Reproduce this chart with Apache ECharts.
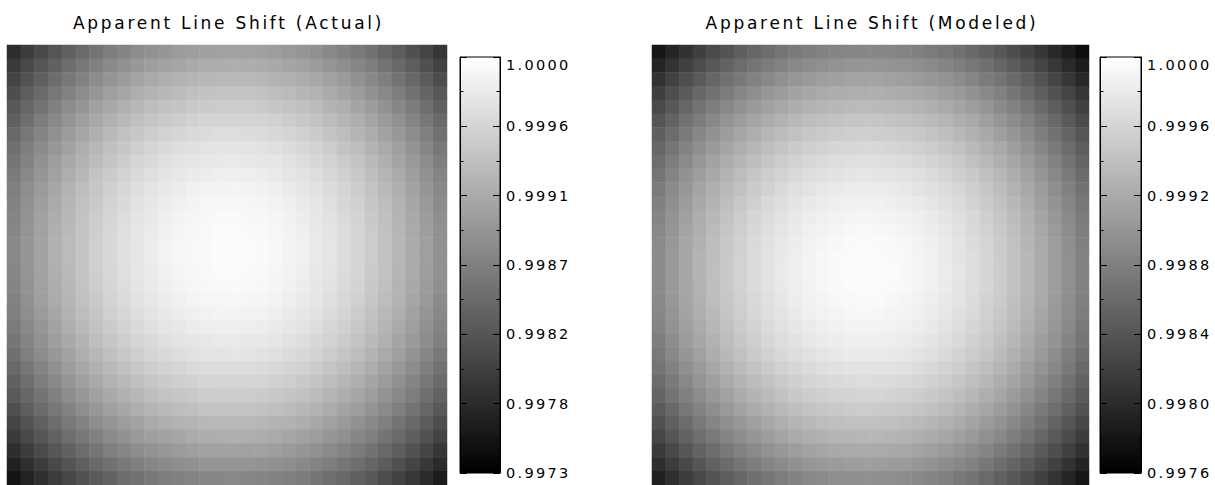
<!DOCTYPE html>
<html>
<head>
<meta charset="utf-8">
<script src="https://cdn.jsdelivr.net/npm/echarts@6/dist/echarts.min.js"></script>
<style>
  html, body { margin: 0; padding: 0; background: #ffffff; }
  #chart { width: 1215px; height: 485px; }
  /* wide, airy lettering for the titles and colour-bar labels */
  #chart svg text { letter-spacing: 0.16em; }
</style>
</head>
<body>
<div id="chart"></div>
<script>
// Apparent line shift maps, 32 x 32 cells, row 0 at the top.
const actualShift = [
[0.99778,0.99793,0.99807,0.99820,0.99832,0.99843,0.99853,0.99863,0.99871,0.99878,0.99884,0.99889,0.99894,0.99897,0.99899,0.99901,0.99901,0.99900,0.99899,0.99896,0.99892,0.99888,0.99882,0.99875,0.99868,0.99859,0.99850,0.99839,0.99828,0.99815,0.99802,0.99787],
[0.99790,0.99806,0.99820,0.99833,0.99845,0.99856,0.99866,0.99875,0.99884,0.99891,0.99897,0.99902,0.99906,0.99910,0.99912,0.99913,0.99914,0.99913,0.99911,0.99909,0.99905,0.99900,0.99895,0.99888,0.99881,0.99872,0.99863,0.99852,0.99841,0.99828,0.99815,0.99800],
[0.99802,0.99817,0.99831,0.99845,0.99857,0.99868,0.99878,0.99887,0.99895,0.99903,0.99909,0.99914,0.99918,0.99922,0.99924,0.99925,0.99925,0.99925,0.99923,0.99920,0.99917,0.99912,0.99907,0.99900,0.99893,0.99884,0.99874,0.99864,0.99852,0.99840,0.99826,0.99812],
[0.99813,0.99828,0.99842,0.99856,0.99868,0.99879,0.99889,0.99898,0.99906,0.99914,0.99920,0.99925,0.99929,0.99933,0.99935,0.99936,0.99936,0.99936,0.99934,0.99931,0.99928,0.99923,0.99918,0.99911,0.99904,0.99895,0.99885,0.99875,0.99863,0.99851,0.99837,0.99823],
[0.99823,0.99838,0.99852,0.99866,0.99878,0.99889,0.99899,0.99908,0.99916,0.99924,0.99930,0.99935,0.99939,0.99943,0.99945,0.99946,0.99946,0.99946,0.99944,0.99941,0.99938,0.99933,0.99928,0.99921,0.99914,0.99905,0.99895,0.99885,0.99873,0.99861,0.99847,0.99833],
[0.99832,0.99848,0.99862,0.99875,0.99887,0.99898,0.99908,0.99917,0.99926,0.99933,0.99939,0.99944,0.99948,0.99952,0.99954,0.99955,0.99956,0.99955,0.99953,0.99951,0.99947,0.99942,0.99937,0.99930,0.99923,0.99914,0.99905,0.99894,0.99883,0.99870,0.99857,0.99842],
[0.99841,0.99856,0.99870,0.99883,0.99895,0.99906,0.99916,0.99926,0.99934,0.99941,0.99947,0.99952,0.99957,0.99960,0.99962,0.99964,0.99964,0.99963,0.99962,0.99959,0.99955,0.99951,0.99945,0.99938,0.99931,0.99922,0.99913,0.99902,0.99891,0.99878,0.99865,0.99850],
[0.99848,0.99863,0.99877,0.99890,0.99902,0.99914,0.99924,0.99933,0.99941,0.99948,0.99954,0.99960,0.99964,0.99967,0.99970,0.99971,0.99971,0.99970,0.99969,0.99966,0.99963,0.99958,0.99952,0.99946,0.99938,0.99930,0.99920,0.99910,0.99898,0.99886,0.99872,0.99858],
[0.99854,0.99869,0.99884,0.99897,0.99909,0.99920,0.99930,0.99939,0.99947,0.99955,0.99961,0.99966,0.99970,0.99974,0.99976,0.99977,0.99978,0.99977,0.99975,0.99973,0.99969,0.99964,0.99959,0.99952,0.99945,0.99936,0.99927,0.99916,0.99905,0.99892,0.99879,0.99864],
[0.99860,0.99875,0.99889,0.99902,0.99914,0.99925,0.99936,0.99945,0.99953,0.99960,0.99966,0.99972,0.99976,0.99979,0.99981,0.99983,0.99983,0.99982,0.99981,0.99978,0.99974,0.99970,0.99964,0.99958,0.99950,0.99942,0.99932,0.99922,0.99910,0.99898,0.99884,0.99870],
[0.99864,0.99880,0.99894,0.99907,0.99919,0.99930,0.99940,0.99949,0.99958,0.99965,0.99971,0.99976,0.99980,0.99984,0.99986,0.99987,0.99988,0.99987,0.99985,0.99983,0.99979,0.99974,0.99969,0.99962,0.99955,0.99946,0.99937,0.99926,0.99915,0.99902,0.99889,0.99874],
[0.99868,0.99883,0.99897,0.99910,0.99923,0.99934,0.99944,0.99953,0.99961,0.99968,0.99975,0.99980,0.99984,0.99987,0.99990,0.99991,0.99991,0.99991,0.99989,0.99986,0.99983,0.99978,0.99973,0.99966,0.99958,0.99950,0.99940,0.99930,0.99918,0.99906,0.99892,0.99878],
[0.99871,0.99886,0.99900,0.99913,0.99925,0.99937,0.99947,0.99956,0.99964,0.99971,0.99977,0.99983,0.99987,0.99990,0.99993,0.99994,0.99994,0.99993,0.99992,0.99989,0.99986,0.99981,0.99975,0.99969,0.99961,0.99953,0.99943,0.99933,0.99921,0.99909,0.99895,0.99881],
[0.99873,0.99888,0.99902,0.99915,0.99927,0.99938,0.99948,0.99958,0.99966,0.99973,0.99979,0.99985,0.99989,0.99992,0.99994,0.99996,0.99996,0.99995,0.99994,0.99991,0.99987,0.99983,0.99977,0.99971,0.99963,0.99954,0.99945,0.99934,0.99923,0.99910,0.99897,0.99883],
[0.99874,0.99889,0.99903,0.99916,0.99928,0.99939,0.99949,0.99959,0.99967,0.99974,0.99980,0.99986,0.99990,0.99993,0.99995,0.99997,0.99997,0.99996,0.99995,0.99992,0.99988,0.99984,0.99978,0.99972,0.99964,0.99955,0.99946,0.99935,0.99924,0.99911,0.99898,0.99884],
[0.99874,0.99889,0.99903,0.99916,0.99928,0.99939,0.99949,0.99959,0.99967,0.99974,0.99980,0.99986,0.99990,0.99993,0.99995,0.99997,0.99997,0.99996,0.99995,0.99992,0.99988,0.99984,0.99978,0.99972,0.99964,0.99955,0.99946,0.99935,0.99924,0.99911,0.99898,0.99884],
[0.99873,0.99888,0.99902,0.99915,0.99927,0.99938,0.99949,0.99958,0.99966,0.99973,0.99979,0.99985,0.99989,0.99992,0.99994,0.99996,0.99996,0.99995,0.99994,0.99991,0.99987,0.99983,0.99977,0.99971,0.99963,0.99955,0.99945,0.99935,0.99923,0.99911,0.99897,0.99883],
[0.99871,0.99886,0.99900,0.99913,0.99925,0.99937,0.99947,0.99956,0.99964,0.99971,0.99978,0.99983,0.99987,0.99990,0.99993,0.99994,0.99994,0.99994,0.99992,0.99989,0.99986,0.99981,0.99975,0.99969,0.99961,0.99953,0.99943,0.99933,0.99921,0.99909,0.99895,0.99881],
[0.99868,0.99884,0.99898,0.99911,0.99923,0.99934,0.99944,0.99953,0.99962,0.99969,0.99975,0.99980,0.99984,0.99988,0.99990,0.99991,0.99992,0.99991,0.99989,0.99987,0.99983,0.99978,0.99973,0.99966,0.99959,0.99950,0.99941,0.99930,0.99919,0.99906,0.99893,0.99878],
[0.99865,0.99880,0.99894,0.99907,0.99919,0.99930,0.99940,0.99950,0.99958,0.99965,0.99971,0.99977,0.99981,0.99984,0.99986,0.99988,0.99988,0.99987,0.99986,0.99983,0.99979,0.99975,0.99969,0.99963,0.99955,0.99946,0.99937,0.99926,0.99915,0.99902,0.99889,0.99875],
[0.99860,0.99875,0.99889,0.99903,0.99915,0.99926,0.99936,0.99945,0.99953,0.99961,0.99967,0.99972,0.99976,0.99980,0.99982,0.99983,0.99983,0.99983,0.99981,0.99978,0.99975,0.99970,0.99965,0.99958,0.99951,0.99942,0.99932,0.99922,0.99910,0.99898,0.99884,0.99870],
[0.99855,0.99870,0.99884,0.99897,0.99909,0.99920,0.99931,0.99940,0.99948,0.99955,0.99961,0.99967,0.99971,0.99974,0.99976,0.99978,0.99978,0.99977,0.99976,0.99973,0.99969,0.99965,0.99959,0.99953,0.99945,0.99937,0.99927,0.99917,0.99905,0.99893,0.99879,0.99865],
[0.99849,0.99864,0.99878,0.99891,0.99903,0.99914,0.99924,0.99933,0.99942,0.99949,0.99955,0.99960,0.99965,0.99968,0.99970,0.99971,0.99972,0.99971,0.99969,0.99967,0.99963,0.99959,0.99953,0.99946,0.99939,0.99930,0.99921,0.99910,0.99899,0.99886,0.99873,0.99858],
[0.99841,0.99856,0.99870,0.99884,0.99896,0.99907,0.99917,0.99926,0.99934,0.99942,0.99948,0.99953,0.99957,0.99961,0.99963,0.99964,0.99964,0.99964,0.99962,0.99959,0.99956,0.99951,0.99946,0.99939,0.99932,0.99923,0.99913,0.99903,0.99891,0.99879,0.99865,0.99851],
[0.99833,0.99848,0.99862,0.99875,0.99888,0.99899,0.99909,0.99918,0.99926,0.99933,0.99940,0.99945,0.99949,0.99952,0.99955,0.99956,0.99956,0.99956,0.99954,0.99951,0.99948,0.99943,0.99938,0.99931,0.99923,0.99915,0.99905,0.99895,0.99883,0.99871,0.99857,0.99843],
[0.99824,0.99839,0.99853,0.99866,0.99878,0.99890,0.99900,0.99909,0.99917,0.99924,0.99931,0.99936,0.99940,0.99943,0.99946,0.99947,0.99947,0.99947,0.99945,0.99942,0.99939,0.99934,0.99928,0.99922,0.99914,0.99906,0.99896,0.99886,0.99874,0.99862,0.99848,0.99834],
[0.99814,0.99829,0.99843,0.99856,0.99868,0.99880,0.99890,0.99899,0.99907,0.99914,0.99921,0.99926,0.99930,0.99933,0.99936,0.99937,0.99937,0.99937,0.99935,0.99932,0.99929,0.99924,0.99918,0.99912,0.99904,0.99896,0.99886,0.99876,0.99864,0.99852,0.99838,0.99824],
[0.99803,0.99818,0.99832,0.99845,0.99858,0.99869,0.99879,0.99888,0.99896,0.99903,0.99910,0.99915,0.99919,0.99922,0.99925,0.99926,0.99926,0.99926,0.99924,0.99921,0.99918,0.99913,0.99908,0.99901,0.99893,0.99885,0.99875,0.99865,0.99853,0.99841,0.99827,0.99813],
[0.99791,0.99807,0.99821,0.99834,0.99846,0.99857,0.99867,0.99876,0.99885,0.99892,0.99898,0.99903,0.99907,0.99911,0.99913,0.99914,0.99915,0.99914,0.99912,0.99910,0.99906,0.99901,0.99896,0.99889,0.99882,0.99873,0.99864,0.99853,0.99842,0.99829,0.99816,0.99801],
[0.99779,0.99794,0.99808,0.99821,0.99833,0.99844,0.99854,0.99864,0.99872,0.99879,0.99885,0.99890,0.99895,0.99898,0.99900,0.99902,0.99902,0.99901,0.99900,0.99897,0.99893,0.99889,0.99883,0.99876,0.99869,0.99860,0.99851,0.99840,0.99829,0.99816,0.99803,0.99788],
[0.99765,0.99780,0.99794,0.99807,0.99819,0.99831,0.99841,0.99850,0.99858,0.99865,0.99872,0.99877,0.99881,0.99884,0.99887,0.99888,0.99888,0.99888,0.99886,0.99883,0.99880,0.99875,0.99869,0.99863,0.99855,0.99847,0.99837,0.99827,0.99815,0.99803,0.99789,0.99775],
[0.99751,0.99766,0.99780,0.99793,0.99805,0.99816,0.99826,0.99835,0.99844,0.99851,0.99857,0.99862,0.99867,0.99870,0.99872,0.99873,0.99874,0.99873,0.99871,0.99869,0.99865,0.99861,0.99855,0.99848,0.99841,0.99832,0.99823,0.99812,0.99801,0.99788,0.99775,0.99760]
];

const modeledShift = [
[0.99781,0.99795,0.99807,0.99819,0.99830,0.99839,0.99848,0.99856,0.99863,0.99870,0.99875,0.99879,0.99882,0.99885,0.99886,0.99887,0.99887,0.99886,0.99883,0.99880,0.99876,0.99872,0.99866,0.99859,0.99851,0.99843,0.99833,0.99823,0.99812,0.99799,0.99786,0.99772],
[0.99795,0.99808,0.99821,0.99832,0.99843,0.99853,0.99862,0.99870,0.99877,0.99883,0.99888,0.99893,0.99896,0.99898,0.99900,0.99901,0.99900,0.99899,0.99897,0.99894,0.99890,0.99885,0.99879,0.99872,0.99865,0.99856,0.99847,0.99836,0.99825,0.99813,0.99800,0.99786],
[0.99807,0.99821,0.99833,0.99845,0.99856,0.99866,0.99874,0.99882,0.99889,0.99896,0.99901,0.99905,0.99909,0.99911,0.99913,0.99913,0.99913,0.99912,0.99909,0.99906,0.99902,0.99898,0.99892,0.99885,0.99877,0.99869,0.99859,0.99849,0.99838,0.99825,0.99812,0.99798],
[0.99819,0.99833,0.99845,0.99857,0.99867,0.99877,0.99886,0.99894,0.99901,0.99907,0.99913,0.99917,0.99920,0.99923,0.99924,0.99925,0.99925,0.99923,0.99921,0.99918,0.99914,0.99909,0.99904,0.99897,0.99889,0.99881,0.99871,0.99861,0.99849,0.99837,0.99824,0.99810],
[0.99830,0.99843,0.99856,0.99868,0.99878,0.99888,0.99897,0.99905,0.99912,0.99918,0.99923,0.99928,0.99931,0.99933,0.99935,0.99936,0.99935,0.99934,0.99932,0.99929,0.99925,0.99920,0.99914,0.99908,0.99900,0.99891,0.99882,0.99872,0.99860,0.99848,0.99835,0.99821],
[0.99840,0.99853,0.99866,0.99878,0.99888,0.99898,0.99907,0.99915,0.99922,0.99928,0.99933,0.99938,0.99941,0.99943,0.99945,0.99946,0.99945,0.99944,0.99942,0.99939,0.99935,0.99930,0.99924,0.99918,0.99910,0.99901,0.99892,0.99882,0.99870,0.99858,0.99845,0.99831],
[0.99849,0.99862,0.99875,0.99887,0.99897,0.99907,0.99916,0.99924,0.99931,0.99937,0.99942,0.99947,0.99950,0.99952,0.99954,0.99955,0.99954,0.99953,0.99951,0.99948,0.99944,0.99939,0.99933,0.99927,0.99919,0.99910,0.99901,0.99891,0.99879,0.99867,0.99854,0.99840],
[0.99857,0.99871,0.99883,0.99895,0.99905,0.99915,0.99924,0.99932,0.99939,0.99945,0.99951,0.99955,0.99958,0.99961,0.99962,0.99963,0.99963,0.99961,0.99959,0.99956,0.99952,0.99947,0.99942,0.99935,0.99927,0.99919,0.99909,0.99899,0.99887,0.99875,0.99862,0.99848],
[0.99864,0.99878,0.99890,0.99902,0.99913,0.99923,0.99931,0.99939,0.99946,0.99953,0.99958,0.99962,0.99966,0.99968,0.99970,0.99970,0.99970,0.99969,0.99966,0.99963,0.99959,0.99955,0.99949,0.99942,0.99934,0.99926,0.99916,0.99906,0.99895,0.99882,0.99869,0.99855],
[0.99871,0.99884,0.99897,0.99909,0.99919,0.99929,0.99938,0.99946,0.99953,0.99959,0.99964,0.99969,0.99972,0.99974,0.99976,0.99977,0.99976,0.99975,0.99973,0.99970,0.99966,0.99961,0.99955,0.99949,0.99941,0.99932,0.99923,0.99913,0.99901,0.99889,0.99876,0.99862],
[0.99876,0.99890,0.99902,0.99914,0.99925,0.99935,0.99943,0.99951,0.99958,0.99965,0.99970,0.99974,0.99978,0.99980,0.99982,0.99982,0.99982,0.99981,0.99978,0.99975,0.99971,0.99967,0.99961,0.99954,0.99946,0.99938,0.99928,0.99918,0.99907,0.99894,0.99881,0.99867],
[0.99881,0.99895,0.99907,0.99919,0.99929,0.99939,0.99948,0.99956,0.99963,0.99969,0.99975,0.99979,0.99982,0.99985,0.99986,0.99987,0.99987,0.99985,0.99983,0.99980,0.99976,0.99971,0.99966,0.99959,0.99951,0.99943,0.99933,0.99923,0.99911,0.99899,0.99886,0.99872],
[0.99885,0.99898,0.99911,0.99923,0.99933,0.99943,0.99952,0.99960,0.99967,0.99973,0.99978,0.99983,0.99986,0.99988,0.99990,0.99991,0.99990,0.99989,0.99987,0.99984,0.99980,0.99975,0.99969,0.99963,0.99955,0.99946,0.99937,0.99927,0.99915,0.99903,0.99890,0.99876],
[0.99888,0.99901,0.99914,0.99925,0.99936,0.99946,0.99955,0.99963,0.99970,0.99976,0.99981,0.99986,0.99989,0.99991,0.99993,0.99994,0.99993,0.99992,0.99990,0.99987,0.99983,0.99978,0.99972,0.99965,0.99958,0.99949,0.99940,0.99929,0.99918,0.99906,0.99893,0.99879],
[0.99890,0.99903,0.99916,0.99927,0.99938,0.99948,0.99957,0.99965,0.99972,0.99978,0.99983,0.99988,0.99991,0.99993,0.99995,0.99996,0.99995,0.99994,0.99992,0.99989,0.99985,0.99980,0.99974,0.99967,0.99960,0.99951,0.99942,0.99931,0.99920,0.99908,0.99895,0.99881],
[0.99891,0.99904,0.99917,0.99929,0.99939,0.99949,0.99958,0.99966,0.99973,0.99979,0.99984,0.99989,0.99992,0.99995,0.99996,0.99997,0.99996,0.99995,0.99993,0.99990,0.99986,0.99981,0.99975,0.99969,0.99961,0.99952,0.99943,0.99933,0.99921,0.99909,0.99896,0.99882],
[0.99891,0.99905,0.99917,0.99929,0.99940,0.99949,0.99958,0.99966,0.99973,0.99980,0.99985,0.99989,0.99992,0.99995,0.99996,0.99997,0.99997,0.99996,0.99993,0.99990,0.99986,0.99982,0.99976,0.99969,0.99961,0.99953,0.99943,0.99933,0.99922,0.99909,0.99896,0.99882],
[0.99891,0.99904,0.99917,0.99928,0.99939,0.99949,0.99958,0.99966,0.99973,0.99979,0.99984,0.99988,0.99992,0.99994,0.99996,0.99996,0.99996,0.99995,0.99993,0.99990,0.99986,0.99981,0.99975,0.99968,0.99961,0.99952,0.99943,0.99932,0.99921,0.99909,0.99896,0.99882],
[0.99889,0.99903,0.99915,0.99927,0.99938,0.99947,0.99956,0.99964,0.99971,0.99977,0.99983,0.99987,0.99990,0.99993,0.99994,0.99995,0.99995,0.99993,0.99991,0.99988,0.99984,0.99979,0.99974,0.99967,0.99959,0.99951,0.99941,0.99931,0.99920,0.99907,0.99894,0.99880],
[0.99887,0.99900,0.99913,0.99925,0.99935,0.99945,0.99954,0.99962,0.99969,0.99975,0.99980,0.99985,0.99988,0.99990,0.99992,0.99993,0.99992,0.99991,0.99989,0.99986,0.99982,0.99977,0.99971,0.99965,0.99957,0.99948,0.99939,0.99929,0.99917,0.99905,0.99892,0.99878],
[0.99884,0.99897,0.99910,0.99921,0.99932,0.99942,0.99951,0.99959,0.99966,0.99972,0.99977,0.99981,0.99985,0.99987,0.99989,0.99989,0.99989,0.99988,0.99986,0.99983,0.99979,0.99974,0.99968,0.99961,0.99954,0.99945,0.99936,0.99925,0.99914,0.99902,0.99889,0.99874],
[0.99879,0.99893,0.99906,0.99917,0.99928,0.99938,0.99947,0.99955,0.99962,0.99968,0.99973,0.99977,0.99981,0.99983,0.99985,0.99985,0.99985,0.99984,0.99982,0.99979,0.99975,0.99970,0.99964,0.99957,0.99950,0.99941,0.99932,0.99921,0.99910,0.99898,0.99884,0.99870],
[0.99874,0.99888,0.99901,0.99912,0.99923,0.99933,0.99942,0.99950,0.99957,0.99963,0.99968,0.99972,0.99976,0.99978,0.99980,0.99980,0.99980,0.99979,0.99977,0.99974,0.99970,0.99965,0.99959,0.99952,0.99945,0.99936,0.99927,0.99916,0.99905,0.99893,0.99879,0.99865],
[0.99869,0.99882,0.99895,0.99906,0.99917,0.99927,0.99936,0.99944,0.99951,0.99957,0.99962,0.99966,0.99970,0.99972,0.99974,0.99974,0.99974,0.99973,0.99971,0.99968,0.99964,0.99959,0.99953,0.99946,0.99939,0.99930,0.99921,0.99910,0.99899,0.99887,0.99874,0.99859],
[0.99862,0.99875,0.99888,0.99900,0.99910,0.99920,0.99929,0.99937,0.99944,0.99950,0.99955,0.99960,0.99963,0.99965,0.99967,0.99968,0.99967,0.99966,0.99964,0.99961,0.99957,0.99952,0.99946,0.99940,0.99932,0.99923,0.99914,0.99904,0.99892,0.99880,0.99867,0.99853],
[0.99854,0.99868,0.99880,0.99892,0.99903,0.99912,0.99921,0.99929,0.99936,0.99943,0.99948,0.99952,0.99955,0.99958,0.99959,0.99960,0.99960,0.99959,0.99956,0.99953,0.99949,0.99945,0.99939,0.99932,0.99924,0.99916,0.99906,0.99896,0.99885,0.99872,0.99859,0.99845],
[0.99846,0.99859,0.99872,0.99883,0.99894,0.99904,0.99913,0.99921,0.99928,0.99934,0.99939,0.99944,0.99947,0.99949,0.99951,0.99952,0.99951,0.99950,0.99948,0.99945,0.99941,0.99936,0.99930,0.99923,0.99916,0.99907,0.99898,0.99887,0.99876,0.99864,0.99851,0.99837],
[0.99836,0.99850,0.99862,0.99874,0.99885,0.99895,0.99903,0.99911,0.99918,0.99925,0.99930,0.99934,0.99938,0.99940,0.99942,0.99942,0.99942,0.99941,0.99938,0.99935,0.99931,0.99927,0.99921,0.99914,0.99906,0.99898,0.99888,0.99878,0.99867,0.99854,0.99841,0.99827],
[0.99826,0.99840,0.99852,0.99864,0.99874,0.99884,0.99893,0.99901,0.99908,0.99914,0.99920,0.99924,0.99927,0.99930,0.99931,0.99932,0.99932,0.99930,0.99928,0.99925,0.99921,0.99916,0.99911,0.99904,0.99896,0.99888,0.99878,0.99868,0.99856,0.99844,0.99831,0.99817],
[0.99815,0.99828,0.99841,0.99853,0.99863,0.99873,0.99882,0.99890,0.99897,0.99903,0.99908,0.99913,0.99916,0.99919,0.99920,0.99921,0.99920,0.99919,0.99917,0.99914,0.99910,0.99905,0.99899,0.99893,0.99885,0.99876,0.99867,0.99857,0.99845,0.99833,0.99820,0.99806],
[0.99803,0.99816,0.99829,0.99841,0.99851,0.99861,0.99870,0.99878,0.99885,0.99891,0.99896,0.99901,0.99904,0.99906,0.99908,0.99909,0.99908,0.99907,0.99905,0.99902,0.99898,0.99893,0.99887,0.99881,0.99873,0.99864,0.99855,0.99845,0.99833,0.99821,0.99808,0.99794],
[0.99790,0.99803,0.99816,0.99828,0.99838,0.99848,0.99857,0.99865,0.99872,0.99878,0.99883,0.99888,0.99891,0.99894,0.99895,0.99896,0.99895,0.99894,0.99892,0.99889,0.99885,0.99880,0.99874,0.99868,0.99860,0.99851,0.99842,0.99832,0.99820,0.99808,0.99795,0.99781]
];

// Colour-bar tick labels, top to bottom
const actualTicks  = ['1.0000', '0.9996', '0.9991', '0.9987', '0.9982', '0.9978', '0.9973'];
const modeledTicks = ['1.0000', '0.9996', '0.9992', '0.9988', '0.9984', '0.9980', '0.9976'];

// Colour scale limits [min, max]
const actualRange  = [0.9973, 1.0];
const modeledRange = [0.9976, 1.0];

const titles = ['Apparent Line Shift (Actual)', 'Apparent Line Shift (Modeled)'];

// ---------------------------------------------------------------------------
const FONT = 'DejaVu Sans';

function toCells(grid) {
  const out = [];
  grid.forEach((row, r) => row.forEach((v, c) => out.push([c, r, v])));
  return out;
}

const panels = [
  { map: actualShift,  ticks: actualTicks,  range: actualRange,
    heat: { left: 7,   top: 45, width: 440, height: 440 },
    bar:  { left: 460, top: 57, width: 40,  height: 416 } },
  { map: modeledShift, ticks: modeledTicks, range: modeledRange,
    heat: { left: 652, top: 45, width: 437, height: 440 },
    bar:  { left: 1100, top: 57, width: 41, height: 416 } }
];

const grids = [], xAxes = [], yAxes = [], series = [], visualMaps = [], graphics = [];

panels.forEach((p, k) => {
  const [lo, hi] = p.range;
  const step = +((hi - lo) / (p.ticks.length - 1)).toFixed(6);
  const colCats = p.map[0].map((_, i) => String(i));
  const rowCats = p.map.map((_, i) => String(i));

  // heat map grid
  const hg = grids.length;
  grids.push(Object.assign({ outerBoundsMode: 'none', containLabel: false }, p.heat));
  const hx = xAxes.length;
  xAxes.push({ gridIndex: hg, type: 'category', data: colCats, show: false });
  const hy = yAxes.length;
  yAxes.push({ gridIndex: hg, type: 'category', data: rowCats, show: false, inverse: true });
  const hs = series.length;
  series.push({
    type: 'heatmap', xAxisIndex: hx, yAxisIndex: hy,
    data: toCells(p.map), silent: true, animation: false, progressive: 0,
    itemStyle: { borderWidth: 0 }
  });
  visualMaps.push({
    type: 'continuous', show: false, seriesIndex: hs, dimension: 2,
    min: lo, max: hi, inRange: { color: ['#000000', '#ffffff'] }
  });

  // colour bar grid
  const bg = grids.length;
  grids.push(Object.assign({ outerBoundsMode: 'none', containLabel: false }, p.bar));
  const bx = xAxes.length;
  xAxes.push({ gridIndex: bg, type: 'value', min: 0, max: 1, show: false });
  const tickCommon = {
    gridIndex: bg, type: 'value', min: lo, max: hi, interval: step, z: 5,
    axisLine: { show: true, lineStyle: { color: '#000', width: 1 } },
    axisTick: { show: true, inside: true, length: 7, lineStyle: { color: '#000', width: 1 } },
    minorTick: { show: true, splitNumber: 2, length: 3.5, lineStyle: { color: '#000', width: 1 } },
    splitLine: { show: false }, minorSplitLine: { show: false }
  };
  const byL = yAxes.length;
  yAxes.push(Object.assign({}, tickCommon, { position: 'left', axisLabel: { show: false } }));
  yAxes.push(Object.assign({}, tickCommon, {
    position: 'right',
    axisLabel: {
      show: true, margin: 6, color: '#000', fontFamily: FONT, fontSize: 14.5,
      verticalAlignMaxLabel: 'top',
      formatter: (v) => {
        const i = Math.round((hi - v) / step);
        return p.ticks[i] !== undefined ? p.ticks[i] : '';
      }
    }
  }));
  const grad = new echarts.graphic.LinearGradient(0, 0, 0, 1, [
    { offset: 0, color: '#ffffff' }, { offset: 1, color: '#000000' }
  ]);
  series.push({
    type: 'custom', xAxisIndex: bx, yAxisIndex: byL, silent: true, animation: false, z: 1,
    data: [[0, lo, hi]],
    encode: { x: 0, y: [1, 2] },
    renderItem: (params, api) => {
      const cs = params.coordSys;
      const top = api.coord([0, api.value(2)]);
      const bot = api.coord([0, api.value(1)]);
      return {
        type: 'rect',
        shape: { x: cs.x, y: top[1], width: cs.width, height: bot[1] - top[1] },
        style: { fill: grad, stroke: '#000', lineWidth: 1 }
      };
    }
  });

  // panel title, centred over the map
  graphics.push({
    type: 'text',
    x: p.heat.left + p.heat.width / 2 + 1.5,
    y: 23,
    style: {
      text: titles[k], fill: '#000',
      font: '17px "' + FONT + '"',
      textAlign: 'center', align: 'center',
      textVerticalAlign: 'middle', verticalAlign: 'middle'
    }
  });
});

const chart = echarts.init(document.getElementById('chart'), null, { renderer: 'svg' });
chart.setOption({
  animation: false,
  backgroundColor: '#ffffff',
  grid: grids,
  xAxis: xAxes,
  yAxis: yAxes,
  visualMap: visualMaps,
  series: series,
  graphic: graphics
});
</script>
</body>
</html>
